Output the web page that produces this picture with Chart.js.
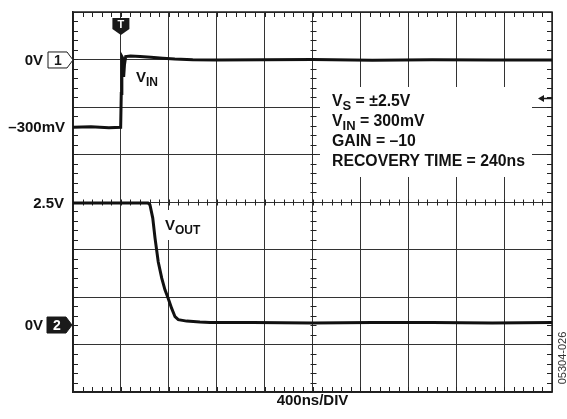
<!DOCTYPE html>
<html>
<head>
<meta charset="utf-8">
<script src="https://cdn.jsdelivr.net/npm/chart.js@4.4.1/dist/chart.umd.min.js"></script>
<style>
  body { margin: 0; background: #fff; }
  #scope { display: block; }
</style>
</head>
<body>
<canvas id="scope" width="567" height="419"></canvas>
<script>
// screen: 10 div x 400ns, 8 div vertical (centre = 0)
var timeStep = 400;
var timeMax = 4000;
var divMin = -4, divMax = 4;

// channel 1 - VIN, in mV
var vinTime = [0, 150, 300, 398, 403, 408, 413, 418, 423, 430, 440, 480, 560, 650, 750, 850, 1000, 1200, 2000, 2500, 3000, 3500, 4000];
var vinMv = [-300, -298, -302, -300, -150, 15, 10, -40, -75, -20, 15, 18, 16, 12, 8, 4, 1, 0, 2, -1, 1, 0, 0];

// channel 2 - VOUT, in V
var voutTime = [0, 300, 600, 626, 643, 666, 685, 712, 741, 768, 796, 824, 852, 879, 949, 1060, 1144, 1500, 2000, 2500, 3000, 3500, 4000];
var voutV = [2.5, 2.5, 2.5, 2.5, 2.46, 2.19, 1.78, 1.29, 0.96, 0.72, 0.54, 0.34, 0.17, 0.11, 0.08, 0.06, 0.05, 0.05, 0.04, 0.05, 0.05, 0.04, 0.05];

// channel settings (offset in div from centre, units per div)
var ch1Offset = 2.99, ch1Scale = 212;
var ch2Offset = -2.59, ch2Scale = 0.973;

// level markers on the left
var ch1Marks = [0, -300];
var ch1MarkText = ['0V', '–300mV'];
var ch2Marks = [2.5, 0];
var ch2MarkText = ['2.5V', '0V'];

var triggerTime = 400;
var triggerLevel = -170;

var infoLines = [['V', 'S', ' = ±2.5V'], ['V', 'IN', ' = 300mV'], ['GAIN = –10', '', ''], ['RECOVERY TIME = 240ns', '', '']];

var FONT = "'Liberation Sans', Arial, Helvetica, sans-serif";

function ch1(v) { return ch1Offset + v / ch1Scale; }
function ch2(v) { return ch2Offset + v / ch2Scale; }

var vinData = [];
for (var i = 0; i < vinTime.length; i++) vinData.push({ x: vinTime[i], y: ch1(vinMv[i]) });
var voutData = [];
for (var i = 0; i < voutTime.length; i++) voutData.push({ x: voutTime[i], y: ch2(voutV[i]) });

function subText(ctx, x, y, main, sub, rest, size) {
  ctx.font = 'bold ' + size + 'px ' + FONT;
  ctx.fillText(main, x, y);
  x += ctx.measureText(main).width;
  if (sub) {
    ctx.font = 'bold ' + Math.round(size * 0.8) + 'px ' + FONT;
    ctx.fillText(sub, x, y + 4);
    x += ctx.measureText(sub).width;
  }
  if (rest) {
    ctx.font = 'bold ' + size + 'px ' + FONT;
    ctx.fillText(rest, x, y);
  }
}

function marker(ctx, xr, yc, label, filled) {
  // pentagon pointing right, tip at xr
  ctx.beginPath();
  ctx.moveTo(xr - 25, yc - 8);
  ctx.lineTo(xr - 6, yc - 8);
  ctx.lineTo(xr, yc);
  ctx.lineTo(xr - 6, yc + 8);
  ctx.lineTo(xr - 25, yc + 8);
  ctx.closePath();
  ctx.fillStyle = filled ? '#1a1a1a' : '#fff';
  ctx.fill();
  ctx.lineWidth = 1;
  ctx.strokeStyle = '#1a1a1a';
  ctx.stroke();
  ctx.fillStyle = filled ? '#fff' : '#1a1a1a';
  ctx.font = 'bold 14px ' + FONT;
  ctx.textAlign = 'center';
  ctx.textBaseline = 'middle';
  ctx.fillText(label, xr - 15, yc + 1);
}

var scopePlugin = {
  id: 'scope',
  beforeDatasetsDraw: function (chart) {
    var ctx = chart.ctx, a = chart.chartArea;
    var xs = chart.scales.x, ys = chart.scales.y;
    var cx = Math.round(xs.getPixelForValue(timeMax / 2)) + 0.5;
    var cy = Math.round(ys.getPixelForValue(0)) + 0.5;
    ctx.save();
    ctx.strokeStyle = '#222';
    ctx.lineWidth = 1;
    ctx.beginPath();
    for (var t = 0; t <= timeMax; t += timeStep / 5) {
      var px = Math.round(xs.getPixelForValue(t)) + 0.5;
      ctx.moveTo(px, a.top); ctx.lineTo(px, a.top + 5);
      ctx.moveTo(px, a.bottom); ctx.lineTo(px, a.bottom - 5);
      ctx.moveTo(px, cy - 3); ctx.lineTo(px, cy + 3);
    }
    for (var d = divMin; d <= divMax + 0.001; d += 0.2) {
      var py = Math.round(ys.getPixelForValue(d)) + 0.5;
      ctx.moveTo(a.left, py); ctx.lineTo(a.left + 5, py);
      ctx.moveTo(a.right, py); ctx.lineTo(a.right - 5, py);
      ctx.moveTo(cx - 3, py); ctx.lineTo(cx + 3, py);
    }
    ctx.stroke();
    ctx.lineWidth = 1.5;
    ctx.strokeRect(a.left, a.top, a.right - a.left, a.bottom - a.top);
    ctx.restore();
  },
  afterDatasetsDraw: function (chart) {
    var ctx = chart.ctx, a = chart.chartArea;
    var xs = chart.scales.x, ys = chart.scales.y;
    ctx.save();

    // white panels behind labels
    ctx.fillStyle = '#fff';
    ctx.fillRect(320, 87, 212, 90);
    ctx.fillRect(160, 210, 46, 30);

    ctx.fillStyle = '#111';
    ctx.textAlign = 'left';
    ctx.textBaseline = 'alphabetic';
    for (var i = 0; i < infoLines.length; i++) {
      subText(ctx, 332, 106 + i * 20, infoLines[i][0], infoLines[i][1], infoLines[i][2], 15.8);
    }
    subText(ctx, 136, 82, 'V', 'IN', '', 15);
    subText(ctx, 165, 230, 'V', 'OUT', '', 15);

    // trigger position marker
    var tx = xs.getPixelForValue(triggerTime);
    ctx.beginPath();
    ctx.moveTo(tx - 8.5, 18);
    ctx.lineTo(tx + 8.5, 18);
    ctx.lineTo(tx + 8.5, 29);
    ctx.lineTo(tx, 35);
    ctx.lineTo(tx - 8.5, 29);
    ctx.closePath();
    ctx.fillStyle = '#1a1a1a';
    ctx.fill();
    ctx.fillStyle = '#fff';
    ctx.font = 'bold 11px ' + FONT;
    ctx.textAlign = 'center';
    ctx.textBaseline = 'middle';
    ctx.fillText('T', tx, 25);

    // trigger level arrow
    var ty = Math.round(ys.getPixelForValue(ch1(triggerLevel))) + 0.5;
    ctx.fillStyle = '#1a1a1a';
    ctx.beginPath();
    ctx.moveTo(a.right - 14, ty);
    ctx.lineTo(a.right - 8, ty - 3.5);
    ctx.lineTo(a.right - 8, ty + 3.5);
    ctx.closePath();
    ctx.fill();
    ctx.strokeStyle = '#1a1a1a';
    ctx.lineWidth = 1.5;
    ctx.beginPath();
    ctx.moveTo(a.right - 9, ty);
    ctx.lineTo(a.right, ty);
    ctx.stroke();

    // channel ground markers and level labels
    var g1 = ys.getPixelForValue(ch1(0));
    var g2 = ys.getPixelForValue(ch2(0));
    marker(ctx, a.left, g1, '1', false);
    marker(ctx, a.left - 1, g2, '2', true);

    ctx.fillStyle = '#111';
    ctx.font = 'bold 15px ' + FONT;
    ctx.textAlign = 'right';
    ctx.textBaseline = 'middle';
    for (var i = 0; i < ch1Marks.length; i++) {
      var py = ys.getPixelForValue(ch1(ch1Marks[i]));
      ctx.fillText(ch1MarkText[i], ch1Marks[i] === 0 ? 43 : 65, py + 1);
    }
    for (var i = 0; i < ch2Marks.length; i++) {
      var py = ys.getPixelForValue(ch2(ch2Marks[i]));
      ctx.fillText(ch2MarkText[i], ch2Marks[i] === 0 ? 43 : 64, py + 1);
    }

    // figure code
    ctx.translate(563, 358);
    ctx.rotate(-Math.PI / 2);
    ctx.font = '11px ' + FONT;
    ctx.fillStyle = '#333';
    ctx.textAlign = 'center';
    ctx.textBaseline = 'middle';
    ctx.fillText('05304-026', 0, 0);
    ctx.restore();
  }
};

new Chart(document.getElementById('scope'), {
  type: 'line',
  data: {
    datasets: [
      { label: 'VIN', data: vinData, borderColor: '#111', borderWidth: 3, pointRadius: 0, tension: 0 },
      { label: 'VOUT', data: voutData, borderColor: '#111', borderWidth: 3, pointRadius: 0, tension: 0 }
    ]
  },
  options: {
    responsive: false,
    animation: false,
    layout: { padding: { left: 73, right: 15, top: 12, bottom: 9 } },
    plugins: { legend: { display: false }, tooltip: { enabled: false } },
    scales: {
      x: {
        type: 'linear', min: 0, max: timeMax,
        ticks: { display: false, stepSize: timeStep },
        grid: { color: '#333', lineWidth: 1, drawTicks: false },
        border: { color: '#1a1a1a', width: 1.5 },
        title: { display: true, text: '400ns/DIV', color: '#111', font: { family: FONT, size: 15, weight: 'bold' }, padding: { top: 0, bottom: 0 } }
      },
      y: {
        type: 'linear', min: divMin, max: divMax,
        ticks: { display: false, stepSize: 1 },
        grid: { color: '#333', lineWidth: 1, drawTicks: false },
        border: { color: '#1a1a1a', width: 1.5 }
      }
    }
  },
  plugins: [scopePlugin]
});
</script>
</body>
</html>
